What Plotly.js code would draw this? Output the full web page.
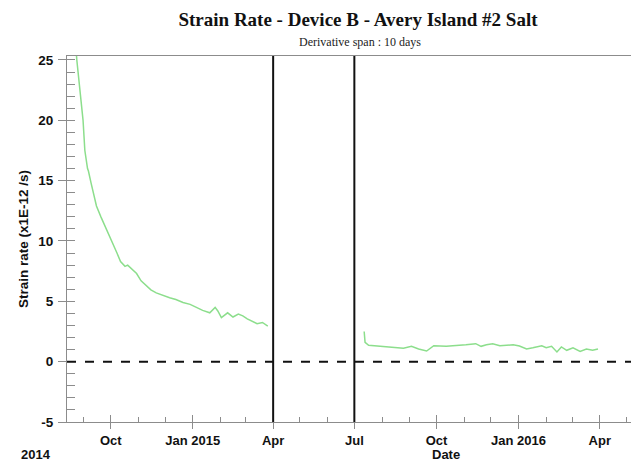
<!DOCTYPE html>
<html>
<head>
<meta charset="utf-8">
<script src="https://cdn.plot.ly/plotly-3.0.1.min.js"></script>
<style>html,body{margin:0;padding:0;background:#fff;}#chart{width:631px;height:461px;}</style>
</head>
<body>
<div id="chart"></div>
<script>
// Segment 1 (before the gap)
const dates1 = ["2014-08-21","2014-08-24","2014-08-31","2014-09-02","2014-09-05","2014-09-06","2014-09-09","2014-09-15","2014-09-20","2014-09-25","2014-09-28","2014-10-02","2014-10-08","2014-10-12","2014-10-17","2014-10-20","2014-10-23","2014-10-30","2014-11-04","2014-11-10","2014-11-15","2014-11-21","2014-11-28","2014-12-06","2014-12-13","2014-12-21","2014-12-29","2015-01-05","2015-01-12","2015-01-20","2015-01-26","2015-01-29","2015-02-02","2015-02-09","2015-02-15","2015-02-21","2015-02-26","2015-03-03","2015-03-09","2015-03-14","2015-03-20","2015-03-26"];
const rate1 = [28,25,20,17.5,16,15.8,14.8,12.9,12.0,11.2,10.7,10.1,9.0,8.3,7.9,8.0,7.8,7.3,6.7,6.3,5.95,5.7,5.5,5.3,5.15,4.9,4.75,4.47,4.25,4.05,4.5,4.2,3.65,4.05,3.7,3.95,3.8,3.55,3.35,3.15,3.25,2.95];
// Segment 2 (after the gap)
const dates2 = ["2015-07-12","2015-07-13","2015-07-17","2015-08-01","2015-08-16","2015-08-25","2015-09-03","2015-09-11","2015-09-20","2015-09-28","2015-10-12","2015-10-23","2015-11-03","2015-11-14","2015-11-20","2015-11-26","2015-12-03","2015-12-11","2015-12-26","2016-01-02","2016-01-10","2016-01-17","2016-01-27","2016-02-01","2016-02-07","2016-02-13","2016-02-18","2016-02-24","2016-03-02","2016-03-10","2016-03-17","2016-03-24","2016-03-30"];
const rate2 = [2.5,1.6,1.35,1.27,1.2,1.12,1.27,1.05,0.88,1.32,1.27,1.32,1.4,1.49,1.27,1.4,1.49,1.32,1.4,1.3,1.05,1.15,1.32,1.15,1.27,0.8,1.22,0.94,1.15,0.85,1.05,0.94,1.05];

const xTickVals = ["2014-10-01","2015-01-01","2015-04-01","2015-07-01","2015-10-01","2016-01-01","2016-04-01"];
const xTickText = ["Oct","Jan 2015","Apr","Jul","Oct","Jan 2016","Apr"];
const yTickVals = [-5,0,5,10,15,20,25];
const yTickText = ["-5","0","5","10","15","20","25"];
const eventDates = ["2015-04-01","2015-07-01"];

const xRange = ["2014-08-13","2016-05-06"];
const yRange = [-5, 25.33];
const lineColor = "rgb(140,222,140)";
const axisGrey = "#8c8c8c";
const tickFont = {family: "Liberation Sans, Arial, sans-serif", size: 13.5, color: "#111", weight: "bold"};
const xTickFont = {family: "Liberation Sans, Arial, sans-serif", size: 13, color: "#111", weight: "bold"};

const traces = [
  {x: dates1, y: rate1, type: "scatter", mode: "lines", line: {color: lineColor, width: 1.5}, hoverinfo: "skip", showlegend: false},
  {x: dates2, y: rate2, type: "scatter", mode: "lines", line: {color: lineColor, width: 1.5}, hoverinfo: "skip", showlegend: false},
  {x: [xRange[0]], y: [null], xaxis: "x2", yaxis: "y2", type: "scatter", mode: "lines", hoverinfo: "skip", showlegend: false}
];

const shapes = eventDates.map(d => ({type: "line", xref: "x", yref: "paper", x0: d, x1: d, y0: 0, y1: 1, line: {color: "#111", width: 2}}));
shapes.push({type: "line", xref: "paper", yref: "y", x0: 0, x1: 1, y0: 0, y1: 0, line: {color: "#111", width: 2, dash: "dash"}});

const layout = {
  width: 631, height: 461,
  margin: {l: 67, r: 0, t: 56, b: 39, pad: 0},
  paper_bgcolor: "#fff", plot_bgcolor: "#fff",
  showlegend: false,
  title: {text: "<b>Strain Rate - Device B - Avery Island #2 Salt</b>", font: {family: "Liberation Serif, Times New Roman, serif", size: 19, color: "#111"}, x: 358/631, xanchor: "center", xref: "container", y: 1 - 19/461, yanchor: "middle", yref: "container"},
  xaxis: {
    type: "date", range: xRange, showgrid: false, zeroline: false,
    showline: true, linecolor: axisGrey, linewidth: 1, mirror: true,
    tickmode: "array", tickvals: xTickVals, ticktext: xTickText,
    ticks: "outside", ticklen: 6, tickcolor: axisGrey, tickwidth: 1,
    tickfont: xTickFont,
    minor: {ticks: "inside", ticklen: 5, tickcolor: axisGrey, dtick: "M1", tick0: "2014-08-01", showgrid: false}
  },
  xaxis2: {
    type: "date", range: xRange, overlaying: "x", side: "bottom", showgrid: false, zeroline: false, showline: false,
    tickmode: "array", tickvals: xTickVals, ticks: "inside", ticklen: 7, tickcolor: axisGrey, showticklabels: false
  },
  yaxis: {
    range: yRange, showgrid: false, zeroline: false,
    showline: true, linecolor: axisGrey, linewidth: 1,
    tickmode: "array", tickvals: yTickVals, ticktext: yTickText,
    ticks: "outside", ticklen: 8, tickcolor: axisGrey, tickwidth: 1,
    tickfont: tickFont, ticklabelstandoff: 2,
    minor: {ticks: "inside", ticklen: 8, tickcolor: axisGrey, dtick: 1, tick0: 0, showgrid: false},
    title: {text: "<b>Strain rate (x1E-12 /s)</b>", font: {family: "Liberation Sans, Arial, sans-serif", size: 13.5, color: "#111"}, standoff: 6}
  },
  yaxis2: {
    range: yRange, overlaying: "y", side: "left", showgrid: false, zeroline: false, showline: false,
    tickmode: "array", tickvals: yTickVals, ticks: "inside", ticklen: 8, tickcolor: axisGrey, showticklabels: false
  },
  shapes: shapes,
  annotations: [
    {text: "Derivative span : 10 days", xref: "paper", yref: "paper", x: (360-67)/564, y: 1 + (56-42)/366, xanchor: "center", yanchor: "middle", showarrow: false, font: {family: "Liberation Serif, Times New Roman, serif", size: 12, color: "#222"}},
    {text: "<b>Date</b>", xref: "paper", yref: "paper", x: (446-67)/564, y: -(454-422)/366, xanchor: "center", yanchor: "middle", showarrow: false, font: xTickFont},
    {text: "<b>2014</b>", xref: "paper", yref: "paper", x: (36-67)/564, y: -(454-422)/366, xanchor: "center", yanchor: "middle", showarrow: false, font: xTickFont}
  ]
};

Plotly.newPlot("chart", traces, layout, {staticPlot: true, displayModeBar: false});
</script>
</body>
</html>
